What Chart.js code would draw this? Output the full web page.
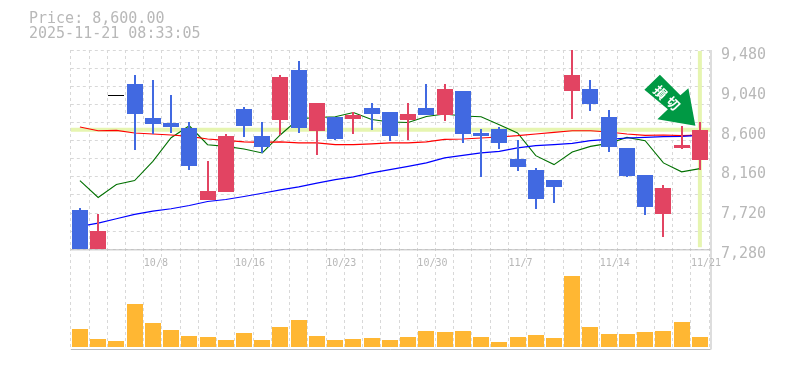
<!doctype html>
<html lang="en">
<head>
<meta charset="utf-8">
<title>Price chart</title>
<script src="https://cdn.jsdelivr.net/npm/chart.js"></script>
<style>
    body { margin: 0; background: white; }
    canvas { display: block; }
</style>
</head>
<body>
<canvas id="myChart" width="785" height="370"></canvas>
<script>
const categories = ['10/2','10/3','10/6','10/7','10/8','10/9','10/10','10/14','10/15','10/16','10/17','10/20','10/21','10/22','10/23','10/24','10/27','10/28','10/29','10/30','10/31','11/4','11/5','11/6','11/7','11/10','11/11','11/12','11/13','11/14','11/17','11/18','11/19','11/20','11/21'];
const shownDates = ['10/8','10/16','10/23','10/30','11/7','11/14','11/21'];
const headerLines = ['Price: 8,600.00', '2025-11-21 08:33:05'];
const signalText = ['損', '切'];
const lastPrice = 8600;

const opens  = [7709,7280,8974,9106,8732,8677,8622,7819,7918,8831,8534,8710,9260,8589,8743,8721,8842,8798,8710,8842,8765,9029,8567,8611,8281,8160,8050,9029,9051,8743,8402,8105,7665,8402,8270];
const closes = [7280,7478,8974,8776,8666,8633,8196,7929,8534,8636,8413,9183,8622,8897,8501,8768,8776,8534,8776,8765,9051,8556,8534,8457,8193,7841,7973,9205,8886,8413,8094,7742,7962,8435,8600];
const highs  = [7731,7665,8974,9205,9150,8985,8688,8259,8553,8853,8688,9205,9359,8897,8743,8798,8897,8798,8897,9106,9106,9029,8611,8625,8490,8182,8050,9480,9150,8820,8402,8105,7995,8644,8688];
const lows   = [7280,7280,8974,8380,8548,8567,8152,7819,7918,8515,8344,8545,8567,8325,8490,8556,8600,8479,8490,8765,8699,8457,8083,8391,8149,7720,7786,8721,8809,8358,8083,7654,7412,8391,8160];
const volumes = [1770,770,570,4270,2370,1670,1070,970,670,1370,670,1970,2670,1070,670,770,870,670,970,1570,1470,1570,970,470,970,1170,870,7070,1970,1270,1270,1470,1570,2470,970];

const maShort = [8039,7852,7995,8039,8251,8512,8644,8435,8416,8388,8344,8545,8721,8735,8743,8790,8713,8685,8680,8746,8773,8751,8743,8655,8564,8314,8215,8355,8416,8449,8515,8479,8234,8135,8171];
const maMid   = [8630,8589,8592,8564,8553,8542,8526,8498,8482,8465,8460,8465,8454,8454,8435,8435,8443,8454,8454,8465,8493,8498,8509,8520,8534,8553,8570,8589,8589,8575,8553,8537,8542,8534,8540];
const maLong  = [7533,7569,7618,7665,7701,7728,7764,7808,7830,7863,7899,7937,7970,8011,8050,8080,8124,8160,8196,8234,8289,8317,8344,8361,8399,8424,8435,8449,8479,8493,8509,8515,8523,8526,8537];

const priceMin = 7280, priceMax = 9480;
const gridStep = 200, labelStep = 440;

const textColor = '#b8b8b8';
const frameColor = '#bbbbbb';
const gridColor = '#d8d8d8';
const highlightColor = '#e6f5b0';

function candleColor(i) {
    if (closes[i] > opens[i]) return '#e24462';
    if (closes[i] < opens[i]) return '#4169e1';
    return 'black';
}
const candleColors = categories.map((c, i) => candleColor(i));

function maLine(values, color, width) {
    return {
        type: 'line',
        data: values,
        yAxisID: 'y',
        borderColor: color,
        borderWidth: width,
        pointRadius: 0,
        tension: 0,
        fill: false,
        order: 2
    };
}

function candleBar(values, thickness, minLength) {
    return {
        type: 'bar',
        data: values,
        yAxisID: 'y',
        backgroundColor: candleColors,
        barThickness: thickness,
        minBarLength: minLength,
        grouped: false,
        inflateAmount: 0,
        order: 1
    };
}

// highlight lines under the marks, frame and header text, signal arrow on top
const overlay = {
    id: 'overlay',
    afterDatasetsUpdate(chart) {
        // snap bars to whole pixels so the edges stay crisp
        chart.data.datasets.forEach((ds, n) => {
            if (ds.type !== 'bar') return;
            chart.getDatasetMeta(n).data.forEach(bar => {
                bar.x = Math.round(bar.x);
                bar.y = Math.round(bar.y);
                bar.base = Math.round(bar.base);
            });
        });
    },
    beforeDatasetsDraw(chart) {
        const { ctx, chartArea, scales: { x, y, yVol } } = chart;
        const right = chartArea.right + 1.5;
        ctx.save();
        ctx.strokeStyle = highlightColor;
        ctx.lineWidth = 4;
        ctx.beginPath();
        ctx.moveTo(chartArea.left, y.getPixelForValue(lastPrice));
        ctx.lineTo(right, y.getPixelForValue(lastPrice));
        const lastX = x.getPixelForValue(categories.length - 1);
        ctx.moveTo(lastX, y.top + 1);
        ctx.lineTo(lastX, y.bottom - 2);
        ctx.stroke();

        ctx.strokeStyle = frameColor;
        ctx.lineWidth = 1;
        ctx.beginPath();
        ctx.moveTo(chartArea.left, y.bottom + 0.5);
        ctx.lineTo(right, y.bottom + 0.5);
        ctx.moveTo(chartArea.left, yVol.bottom + 0.5);
        ctx.lineTo(right, yVol.bottom + 0.5);
        ctx.moveTo(right + 0.5, y.top);
        ctx.lineTo(right + 0.5, yVol.bottom + 0.5);
        ctx.stroke();

        ctx.fillStyle = textColor;
        ctx.font = '15px "DejaVu Sans Mono"';
        ctx.textBaseline = 'middle';
        ctx.fillText(headerLines[0], 29, 19);
        ctx.fillText(headerLines[1], 29, 34);
        ctx.restore();
    },
    afterDatasetsDraw(chart) {
        const { ctx, scales: { x, y } } = chart;
        const tipX = x.getPixelForValue(categories.length - 1) - 4.5;
        const tipY = y.getPixelForValue(lastPrice) - 4;
        // clockwise from the tip: head corner, shaft, back edge, shaft, head corner
        const outline = [[0, 0], [-7, -37.5], [-15, -30.5], [-35.5, -51], [-51, -36], [-27.5, -16.5], [-38, -6.5]];
        ctx.save();
        ctx.fillStyle = '#009944';
        ctx.beginPath();
        outline.forEach(([dx, dy], i) => {
            if (i === 0) ctx.moveTo(tipX + dx, tipY + dy);
            else ctx.lineTo(tipX + dx, tipY + dy);
        });
        ctx.closePath();
        ctx.fill();

        ctx.fillStyle = 'white';
        ctx.font = 'bold 13px "Noto Sans CJK JP"';
        ctx.textAlign = 'center';
        ctx.textBaseline = 'middle';
        signalText.forEach((ch, i) => {
            ctx.save();
            ctx.translate(tipX - 35 + i * 12.6, tipY - 33.5 + i * 11);
            ctx.rotate(Math.PI / 4);
            ctx.fillText(ch, 0, 0);
            ctx.restore();
        });
        ctx.restore();
    }
};

new Chart(document.getElementById('myChart'), {
    data: {
        labels: categories,
        datasets: [
            maLine(maLong, '#0000ff', 1.2),
            maLine(maMid, '#ff0000', 1.2),
            maLine(maShort, '#007000', 1.1),
            candleBar(categories.map((c, i) => [lows[i], highs[i]]), 2, 0),
            candleBar(categories.map((c, i) => [opens[i], closes[i]]), 16, 1),
            {
                type: 'bar',
                data: volumes,
                yAxisID: 'yVol',
                backgroundColor: '#ffb733',
                barThickness: 16,
                grouped: false,
                inflateAmount: 0,
                order: 1
            }
        ]
    },
    plugins: [overlay],
    options: {
        responsive: false,
        animation: false,
        layout: { padding: { left: 70.8, top: 50, right: 0, bottom: 20 } },
        plugins: { legend: { display: false }, tooltip: { enabled: false } },
        scales: {
            x: {
                type: 'category',
                position: { y: priceMin },
                offset: true,
                grid: { offset: true, color: gridColor, drawTicks: false },
                border: { display: false, dash: [3, 3] },
                ticks: {
                    autoSkip: false,
                    maxRotation: 0,
                    minRotation: 0,
                    align: 'start',
                    labelOffset: -9,
                    padding: 8,
                    color: textColor,
                    font: { family: 'DejaVu Sans Mono', size: 10 },
                    callback(value) {
                        const label = this.getLabelForValue(value);
                        return shownDates.includes(label) ? label : '';
                    }
                }
            },
            y: {
                position: 'right',
                stack: 'panels',
                stackWeight: 2,
                min: priceMin,
                max: priceMax,
                afterFit(scale) { scale.width = 76; },
                afterBuildTicks(scale) {
                    const values = new Set();
                    for (let v = priceMin; v <= priceMax; v += gridStep) values.add(v);
                    for (let v = priceMin; v <= priceMax; v += labelStep) values.add(v);
                    scale.ticks = [...values].sort((a, b) => a - b).map(value => ({ value }));
                },
                grid: {
                    drawTicks: false,
                    color: ctx => (ctx.tick.value - priceMin) % gridStep === 0 ? gridColor : 'transparent'
                },
                border: { display: false, dash: [3, 3] },
                ticks: {
                    autoSkip: false,
                    padding: 12,
                    labelOffset: 5,
                    color: textColor,
                    font: { family: 'DejaVu Sans Mono', size: 15 },
                    callback: v => (v - priceMin) % labelStep === 0 ? v.toLocaleString('en-US') : ''
                }
            },
            yVol: {
                position: 'right',
                stack: 'panels',
                stackWeight: 1,
                min: -230,
                max: 9770,
                grid: { display: false },
                border: { display: false },
                ticks: { display: false }
            }
        }
    }
});
</script>
</body>
</html>
